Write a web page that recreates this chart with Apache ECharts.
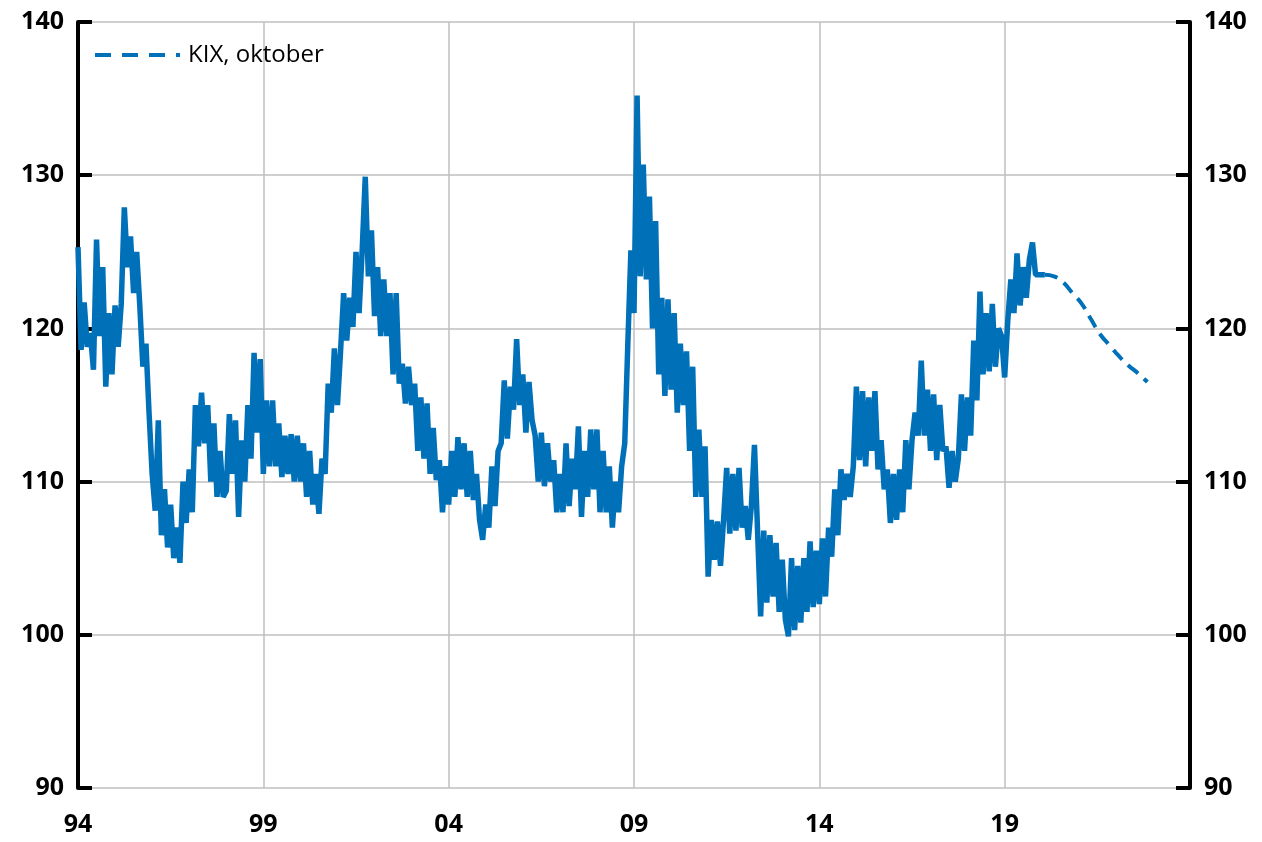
<!DOCTYPE html>
<html>
<head>
<meta charset="utf-8">
<script src="https://cdn.jsdelivr.net/npm/echarts@6/dist/echarts.min.js"></script>
<style>
  html, body { margin: 0; padding: 0; background: #fff; }
  #main { width: 1262px; height: 842px; }
</style>
</head>
<body>
<div id="main"></div>
<script type="text/javascript">
    // KIX, monthly readings (Jan 1994 onwards)
    var kix1994_1998 = [
        125.3, 118.6, 121.7, 118.8, 119.7, 117.3, 125.8, 119.5, 124, 116.2, 121, 117,
        121.5, 118.8, 121.6, 127.9, 124, 126, 122.3, 125, 121.5, 117.5, 119, 114.5,
        110.5, 108.1, 114, 106.5, 109.5, 105.7, 108.5, 105, 107, 104.7, 110, 107.3,
        110.8, 108, 115, 112.3, 115.8, 112.5, 115, 110, 113.8, 109, 112, 109,
        109.4, 114.4, 110.5, 114, 107.7, 112.7, 110, 115, 111.5, 118.4, 113.2, 118
    ];
    var kix1999_2003 = [
        110.5, 115.3, 111, 115.3, 111, 113.8, 110.3, 113, 110.5, 113.1, 110, 113,
        110, 112.5, 109, 112, 108.5, 110.5, 107.9, 111.5, 110.5, 116.4, 114.5, 118.7,
        115, 118.5, 122.3, 119.2, 122, 120.1, 125, 121, 125.1, 129.9, 123.4, 126.4,
        120.8, 124, 119.5, 123.2, 119.5, 122.3, 117, 122.3, 116.4, 117.7, 115.1, 117.5,
        115, 116.4, 112, 115.5, 111.5, 115.1, 110.5, 113.5, 110.1, 111.4, 108, 111
    ];
    var kix2004_2008 = [
        108.5, 112, 109, 112.9, 109.5, 112.5, 109, 112, 108.8, 110.5, 107.5, 106.2,
        108.5, 107, 111, 108.4, 112, 112.5, 116.6, 112.8, 116.2, 114.7, 119.3, 115,
        117, 113.2, 116.5, 114, 113, 110, 113.2, 109.7, 112.5, 110, 111.4, 108,
        110.5, 108, 112.5, 108.4, 111.5, 109.5, 113.6, 107.7, 112, 109, 113.4, 109.5,
        113.4, 108, 112, 108, 111, 107, 110, 108, 111, 112.5, 119, 125.1
    ];
    var kix2009_2013 = [
        121, 135.2, 123.4, 130.7, 123.2, 128.6, 120, 127, 117, 122, 115.6, 121.9,
        116, 121, 114.5, 119, 115, 118.5, 112, 117.5, 109, 113.4, 109, 112.3,
        103.8, 107.5, 104.9, 107.4, 104.5, 107.5, 110.9, 106.6, 110.5, 106.8, 110.9, 107,
        108.4, 106.2, 108.4, 112.4, 106.8, 101.2, 106.8, 102.1, 106.5, 102.5, 106, 101.5,
        104.9, 101, 99.9, 105, 100.3, 104.5, 100.8, 105, 101.5, 106.1, 101.8, 105.5
    ];
    var kix2014_2020 = [
        102, 106.3, 102.5, 107, 105.1, 109.5, 106.5, 110.8, 108.8, 110.5, 109, 111,
        116.2, 111.4, 115.9, 111, 115.5, 112, 115.9, 110.8, 112.7, 109.5, 110.8, 107.3,
        110.5, 107.5, 110.8, 108, 112.7, 109.5, 112.7, 114.5, 113, 117.9, 113, 116,
        112, 115.7, 111.4, 115, 112, 112.3, 109.6, 112, 110, 111.5, 115.7, 112,
        115.5, 113, 119.2, 115.3, 122.4, 117, 121, 117.2, 121.6, 117.5, 120, 119.5,
        116.8, 120.5, 123.2, 121, 124.9, 121.5, 124, 122, 124.5, 125.6, 123.5, 123.5,
        123.5, 123.5
    ];
    var startYear = 1994;

    // forecast from the October report
    var fcYears  = [2020.083, 2020.33, 2020.58, 2020.83, 2021.08, 2021.33, 2021.58, 2021.83, 2022.08, 2022.33, 2022.58, 2022.85];
    var fcValues = [123.5, 123.4, 123.0, 122.3, 121.6, 120.6, 119.6, 118.9, 118.2, 117.6, 117.1, 116.5];

    var xTicks = [1994, 1999, 2004, 2009, 2014, 2019];

    var kix = kix1994_1998.concat(kix1999_2003, kix2004_2008, kix2009_2013, kix2014_2020);
    var kixData = [];
    for (var i = 0; i < kix.length; i++) {
        kixData.push([startYear + i / 12, kix[i]]);
    }
    var fcData = [];
    for (var j = 0; j < fcYears.length; j++) {
        fcData.push([fcYears[j], fcValues[j]]);
    }

    var blue = '#0070B8';
    var font = 'Open Sans';
    // dashed legend key
    var dashIcon = 'path://M0,0h16v4h-16z M27,0h16v4h-16z M54,0h16v4h-16z M81,0h4v4h-4z';

    var yAxisBase = {
        type: 'value',
        min: 90,
        max: 140,
        interval: 10,
        axisLine: { show: true, lineStyle: { color: '#000', width: 4 } },
        axisTick: { show: true, inside: true, length: 14, lineStyle: { color: '#000', width: 4 } },
        axisLabel: { color: '#000', fontFamily: font, fontWeight: 'bold', fontSize: 25, margin: 14 }
    };

    var myChart = echarts.init(document.getElementById('main'));
    var option = {
        animation: false,
        grid: { left: 78, right: 72, top: 22, bottom: 54 },
        legend: {
            data: [{ name: 'KIX, oktober', icon: dashIcon }],
            left: 90,
            top: 38,
            itemWidth: 85,
            itemHeight: 4,
            itemGap: 10,
            itemStyle: { color: blue },
            textStyle: { color: '#000', fontFamily: font, fontSize: 24, padding: [0, 0, 0, 3] }
        },
        xAxis: {
            type: 'value',
            min: 1994,
            max: 2024,
            interval: 5,
            axisLine: { show: false },
            axisTick: { show: false },
            axisLabel: {
                color: '#000', fontFamily: font, fontWeight: 'bold', fontSize: 25, margin: 24,
                formatter: function (v) {
                    return xTicks.indexOf(v) >= 0 ? String(v).slice(2) : '';
                }
            },
            splitLine: { show: true, lineStyle: { color: '#BFBFBF', width: 1.5 } }
        },
        yAxis: [
            Object.assign({}, yAxisBase, {
                position: 'left',
                splitLine: { show: true, lineStyle: { color: '#BFBFBF', width: 1.5 } }
            }),
            Object.assign({}, yAxisBase, {
                position: 'right',
                splitLine: { show: false }
            })
        ],
        series: [
            {
                name: 'KIX',
                type: 'line',
                data: kixData,
                symbol: 'none',
                lineStyle: { color: blue, width: 5.5, join: 'bevel', cap: 'butt' },
                itemStyle: { color: blue },
                z: 3
            },
            {
                name: 'KIX, oktober',
                type: 'line',
                data: fcData,
                symbol: 'none',
                smooth: true,
                lineStyle: { color: blue, width: 4, type: [13, 8] },
                itemStyle: { color: blue },
                z: 3
            }
        ]
    };
    myChart.setOption(option);
</script>
</body>
</html>
